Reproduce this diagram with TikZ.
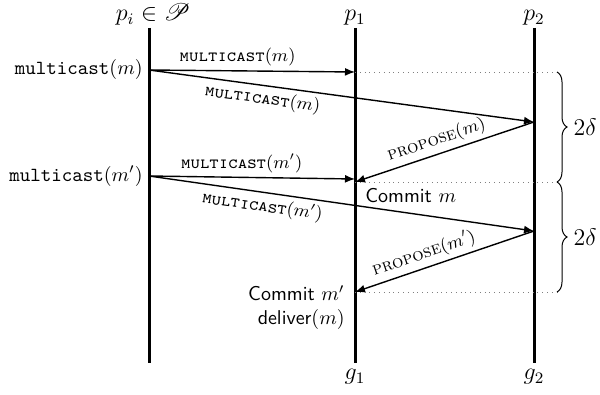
\documentclass[tikz,border=0pt]{standalone}
\usepackage{amsmath}
\usepackage{mathrsfs}
\usetikzlibrary{arrows.meta, positioning, calc, decorations.pathreplacing}

\newcommand{\mcast}{\texttt{\textsc{multicast}}}
\newcommand{\prop}{\textsc{propose}}

\begin{document}
\begin{tikzpicture}[
    x=0.5pt, y=-0.5pt,
    >={Latex[length=5pt, width=4pt]}, % arrow tips
    % process lifelines
    life/.style={line width=1.5pt},
    % messages
    msg/.style={->, line width=0.7pt},
    msglabel/.style={font=\small, inner sep=2pt},
    % dotted helper lines up to the braces
    guide/.style={dotted, gray, line width=0.4pt},
    span/.style={decorate, decoration={brace, amplitude=5pt}, line width=0.5pt},
    % texts beside the lifelines
    event/.style={anchor=east, inner sep=3pt},
    note/.style={font=\sffamily, inner sep=2pt},
    proc/.style={font=\large, inner sep=1pt},
    coord/.style={coordinate}
]
\useasboundingbox (0,0) rectangle (600,395);

% 1. lifelines and their labels
\node [coord] (pi top) at (149,28) {};
\node [coord] (pi bot) at (149,363) {};
\node [coord] (p1 top) at (355,28) {};
\node [coord] (p1 bot) at (355,363) {};
\node [coord] (p2 top) at (534,28) {};
\node [coord] (p2 bot) at (534,363) {};

\draw [life] (pi top) -- (pi bot);
\draw [life] (p1 top) -- (p1 bot);
\draw [life] (p2 top) -- (p2 bot);

\node [proc, above=0pt of pi top, xshift=2pt] (lpi) {$p_i \in \mathscr{P}$};
\node [proc, above=0pt of p1 top] (lp1) {$p_1$};
\node [proc, above=0pt of p2 top] (lp2) {$p_2$};
\node [proc, below=2pt of p1 bot] (lg1) {$g_1$};
\node [proc, below=2pt of p2 bot] (lg2) {$g_2$};

% 2. events on the lifelines
\node [coord] (s1) at (149,70) {};
\node [coord] (r11) at (355,72) {};
\node [coord] (r12) at (534,122) {};
\node [coord] (c1) at (355,182) {};
\node [coord] (s2) at (149,176) {};
\node [coord] (r21) at (355,179) {};
\node [coord] (r22) at (534,231) {};
\node [coord] (c2) at (355,292) {};

\node [event] (mc1) at (s1) {\texttt{multicast}$(m)$};
\node [event] (mc2) at (s2) {\texttt{multicast}$(m')$};

% 3. messages
\draw [msg] (s1) -- node [msglabel, pos=0.43, above] {\mcast$(m)$} (r11);
\draw [msg] (s1) -- node [msglabel, pos=0.3, sloped, below] {\mcast$(m)$} (r12);
\draw [msg] (r12) -- node [msglabel, pos=0.52, sloped, above] {\prop$(m)$} (c1);
\draw [msg] (s2) -- node [msglabel, pos=0.45, above] {\mcast$(m')$} (r21);
\draw [msg] (s2) -- node [msglabel, pos=0.3, sloped, below] {\mcast$(m')$} (r22);
\draw [msg] (r22) -- node [msglabel, pos=0.59, sloped, above] {\prop$(m')$} (c2);

% 4. commits
\node [note, anchor=north west] (cm1) at ($(c1)+(6,2)$) {Commit $m$};
\node [note, anchor=east] (cm2) at ($(c2)+(-6,1)$) {Commit $m'$};
\node [note, anchor=north east] (dl) at (cm2.south east) {deliver$(m)$};

% 5. dotted guides and braces
\node [coord] (b1) at (557,72) {};
\node [coord] (b2) at (557,182) {};
\node [coord] (b3) at (557,292) {};
\draw [guide] (r11) -- (b1);
\draw [guide] (c1) -- (b2);
\draw [guide] (c2) -- (b3);
\draw [span] (b1) -- node [proc, right=7pt] (d1) {$2\delta$} (b2);
\draw [span] (b2) -- node [proc, right=7pt] (d2) {$2\delta$} (b3);

\end{tikzpicture}
\end{document}
